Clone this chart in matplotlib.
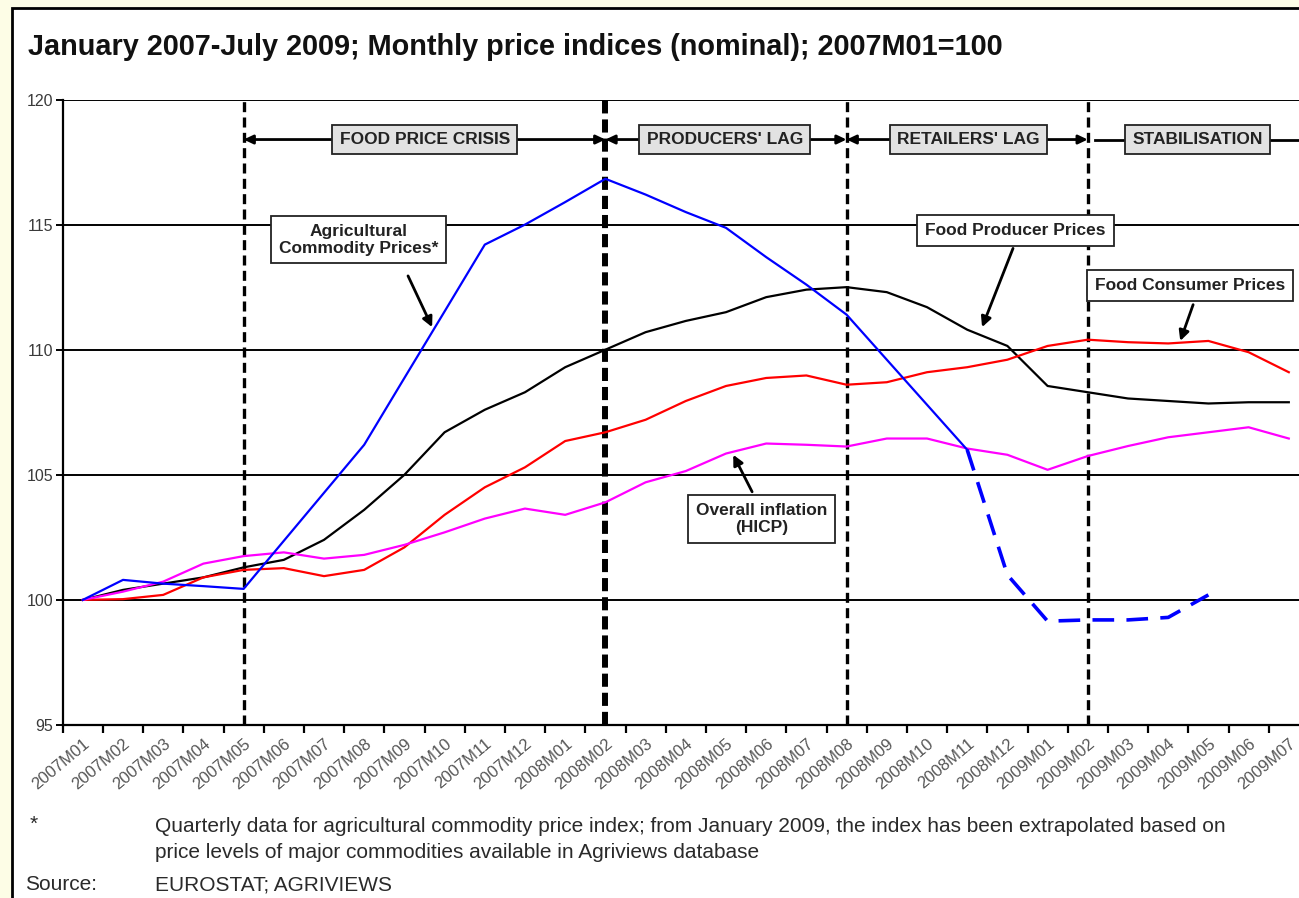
import numpy as np
import matplotlib
matplotlib.use('Agg')
import matplotlib.pyplot as plt
from matplotlib.patches import Rectangle

plt.rcParams['font.family'] = ['Liberation Sans', 'DejaVu Sans']

months = ['2007M01', '2007M02', '2007M03', '2007M04', '2007M05', '2007M06',
          '2007M07', '2007M08', '2007M09', '2007M10', '2007M11', '2007M12',
          '2008M01', '2008M02', '2008M03', '2008M04', '2008M05', '2008M06',
          '2008M07', '2008M08', '2008M09', '2008M10', '2008M11', '2008M12',
          '2009M01', '2009M02', '2009M03', '2009M04', '2009M05', '2009M06',
          '2009M07']

# Agricultural commodity prices (2007M01 .. 2008M11), then extrapolated (2008M11 .. 2009M05)
agri_commodity = [100.0, 100.8, 100.65, 100.55, 100.44, 102.36, 104.28, 106.2,
                  108.87, 111.53, 114.2, 115.0, 115.9, 116.83, 116.2, 115.5,
                  114.87, 113.7, 112.6, 111.4, 109.6, 107.8, 106.0]
agri_extrapolated = [106.0, 101.0, 99.15, 99.2, 99.2, 99.3, 100.2]
food_producer = [100.0, 100.4, 100.65, 100.9, 101.3, 101.6, 102.4, 103.6, 105.0,
                 106.7, 107.6, 108.3, 109.3, 110.0, 110.7, 111.15, 111.5, 112.1,
                 112.4, 112.5, 112.3, 111.7, 110.8, 110.15, 108.55, 108.3, 108.05,
                 107.95, 107.85, 107.9, 107.9]
food_consumer = [100.0, 100.03, 100.2, 100.9, 101.2, 101.27, 100.95, 101.2, 102.1,
                 103.4, 104.5, 105.3, 106.35, 106.7, 107.2, 107.95, 108.55, 108.87,
                 108.97, 108.6, 108.7, 109.1, 109.3, 109.6, 110.15, 110.4, 110.3,
                 110.25, 110.35, 109.9, 109.1]
hicp = [100.0, 100.33, 100.73, 101.45, 101.75, 101.9, 101.65, 101.8, 102.2, 102.7,
        103.25, 103.65, 103.4, 103.9, 104.7, 105.15, 105.85, 106.25, 106.2, 106.13,
        106.45, 106.45, 106.05, 105.8, 105.2, 105.75, 106.15, 106.5, 106.7, 106.9,
        106.45]

phase_names = ['FOOD PRICE CRISIS', "PRODUCERS' LAG", "RETAILERS' LAG", 'STABILISATION']
phase_bounds = ['2007M05', '2008M02', '2008M08', '2009M02']
yticks = [95, 100, 105, 110, 115, 120]

W, H = 1299, 898
fig = plt.figure(figsize=(W / 100, H / 100), dpi=100)
fig.patch.set_facecolor('#fdfde6')
fig.patches.append(Rectangle((12 / W, -0.05), 1.1, 1 - 8 / H + 0.05,
                             transform=fig.transFigure, fc='white', ec='black',
                             lw=2.0, zorder=-5))

ax = fig.add_axes([62.7 / W, (H - 725) / H, 31 * 40.2 / W, 625.5 / H])
ax.set_facecolor('none')
ax.set_zorder(2)
x = np.arange(len(months))
idx = {m: i for i, m in enumerate(months)}

ax.set_xlim(-0.5, len(months) - 0.5)
ax.set_ylim(95, 120)
ax.set_yticks(yticks)
ax.set_yticklabels([str(v) for v in yticks], fontsize=11.5, color='#3a3a3a')
for v in yticks:
    ax.axhline(v, color='black', lw=1.4, zorder=1)

ax.set_xticks(x)
ax.set_xticklabels(months, rotation=40, ha='right', va='top',
                   rotation_mode='anchor', fontsize=12, color='#555555')
ax.tick_params(axis='x', which='major', length=0, pad=8)
ax.set_xticks(np.arange(-0.5, len(months) + 0.5, 1), minor=True)
ax.tick_params(axis='x', which='minor', length=6, width=1.6, color='black')
ax.tick_params(axis='y', length=5, width=1.4, color='black', pad=2)
for s in ['top', 'right']:
    ax.spines[s].set_visible(False)
ax.spines['left'].set_linewidth(1.6)
ax.spines['bottom'].set_linewidth(1.6)

# phase boundaries
for m in phase_bounds:
    if m == '2008M02':
        ax.axvline(idx[m], color='black', lw=4.3, linestyle=(0, (2.2, 1.0)), zorder=2)
    else:
        ax.axvline(idx[m], color='black', lw=2.4, linestyle=(0, (3.0, 1.6)), zorder=2)

# series
ax.plot(x[:len(food_producer)], food_producer, color='black', lw=1.6, zorder=3)
ax.plot(x[:len(food_consumer)], food_consumer, color='#ff0000', lw=1.6, zorder=3)
ax.plot(x[:len(hicp)], hicp, color='#ff00ff', lw=1.6, zorder=3)
ax.plot(x[:len(agri_commodity)], agri_commodity, color='#0000ff', lw=1.6, zorder=4)
start = len(agri_commodity) - 1
ax.plot(x[start:start + len(agri_extrapolated)], agri_extrapolated, color='#0000ff',
        lw=2.6, linestyle=(0, (6, 3.4)), zorder=4)

# phase arrows and boxes
ybar = 118.4
b = [idx[m] for m in phase_bounds]
aprops = dict(arrowstyle='<|-|>,head_length=0.55,head_width=0.26', color='black',
              lw=2.0, shrinkA=0, shrinkB=0)
ax.annotate('', xy=(b[1], ybar), xytext=(b[0], ybar), arrowprops=aprops, zorder=5)
ax.annotate('', xy=(b[2], ybar), xytext=(b[1], ybar), arrowprops=aprops, zorder=5)
ax.annotate('', xy=(b[3], ybar), xytext=(b[2], ybar), arrowprops=aprops, zorder=5)
ax.plot([b[3] + 0.18, len(months) + 1], [ybar, ybar], color='black', lw=2.0,
        zorder=5, clip_on=False)
centers = [8.51, 15.97, 22.03, 27.73]
for name, cx in zip(phase_names, centers):
    ax.text(cx, ybar, name, ha='center', va='center', fontsize=12.5, fontweight='bold',
            color='#222222', zorder=6,
            bbox=dict(boxstyle='square,pad=0.42', fc='#e2e2e2', ec='#222222', lw=1.3))

# series labels
def label(txt, tx, ty, ax0, ay0, ax1, ay1):
    ax.text(tx, ty, txt, ha='center', va='center', fontsize=12.5, fontweight='bold',
            color='#222222', zorder=7, linespacing=1.15,
            bbox=dict(boxstyle='square,pad=0.45', fc='white', ec='#222222', lw=1.3))
    ax.annotate('', xy=(ax1, ay1), xytext=(ax0, ay0),
                arrowprops=dict(arrowstyle='-|>,head_length=0.6,head_width=0.3',
                                color='black', lw=2.0, shrinkA=0, shrinkB=0), zorder=7)

label('Agricultural\nCommodity Prices*', 6.87, 114.4, 8.09, 112.95, 8.69, 110.9)
label('Food Producer Prices', 23.2, 114.76, 23.14, 114.05, 22.37, 110.9)
label('Food Consumer Prices', 27.55, 112.56, 27.62, 111.8, 27.3, 110.35)
label('Overall inflation\n(HICP)', 16.88, 103.24, 16.65, 104.32, 16.18, 105.8)

# title and footnotes
fig.text(28 / W, 1 - 47 / H, 'January 2007-July 2009; Monthly price indices (nominal); 2007M01=100',
         fontsize=20.8, fontweight='bold', color='#111111', ha='left', va='center')
fn = 15
fc = '#2a2a2a'
fig.text(30 / W, 1 - 824 / H, '*', fontsize=fn, color=fc, ha='left', va='center')
fig.text(155 / W, 1 - 827 / H,
         'Quarterly data for agricultural commodity price index; from January 2009, the index has been extrapolated based on',
         fontsize=fn, color=fc, ha='left', va='center')
fig.text(155 / W, 1 - 852 / H,
         'price levels of major commodities available in Agriviews database',
         fontsize=fn, color=fc, ha='left', va='center')
fig.text(25 / W, 1 - 885 / H, 'Source:', fontsize=fn, color=fc, ha='left', va='center')
fig.text(155 / W, 1 - 885 / H, 'EUROSTAT; AGRIVIEWS', fontsize=fn, color=fc,
         ha='left', va='center')

fig.savefig('out.png', dpi=100)
